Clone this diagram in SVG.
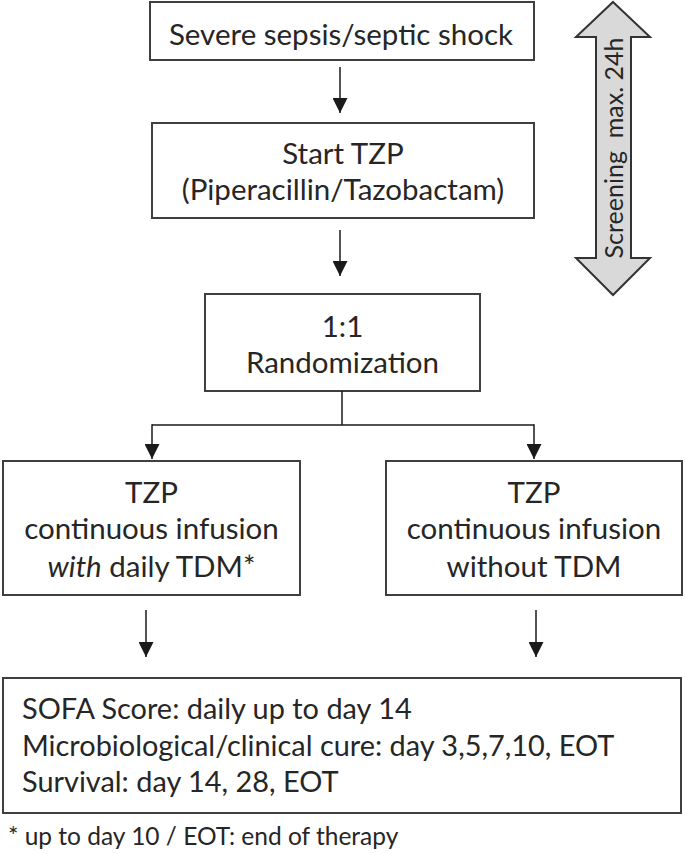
<svg xmlns="http://www.w3.org/2000/svg" width="685" height="854" viewBox="0 0 685 854">
<style>
.box{fill:#fff;stroke:#3f3f3f;stroke-width:2}
.t{font-family:Lato,"Liberation Sans",sans-serif;font-size:29.5px;fill:#262626}
.s{font-size:28.9px}
.c{text-anchor:middle}
.ln{stroke:#1a1a1a;stroke-width:1.5;fill:none}
</style>
<defs>
<marker id="ah" markerUnits="userSpaceOnUse" markerWidth="15" markerHeight="15" refX="15" refY="7.5" orient="auto">
<path d="M0,0 L15,7.5 L0,15 z" fill="#1a1a1a"/>
</marker>
</defs>
<rect width="685" height="854" fill="#fff"/>
<g id="screening">
<polygon points="613,2 650,37 631,37 631,258 650,258 613,295 576,258 596,258 596,37 576,37" fill="#d9d9d9" stroke="#333" stroke-width="2" stroke-linejoin="miter"/>
<text class="t c" style="font-size:25px" xml:space="preserve" transform="translate(623,148) rotate(-90)">Screening  max. 24h</text>
</g>
<g id="n1">
<rect class="box" x="150" y="2" width="384" height="58"/>
<text class="t c" x="341" y="45">Severe sepsis/septic shock</text>
</g>
<g id="n2">
<rect class="box" x="152" y="123" width="382" height="95"/>
<text class="t c" x="343" y="164">Start TZP</text>
<text class="t c" x="343" y="200">(Piperacillin/Tazobactam)</text>
</g>
<g id="n3">
<rect class="box" x="205" y="294" width="275" height="97"/>
<text class="t c" x="342.5" y="337">1:1</text>
<text class="t c" x="342.5" y="373">Randomization</text>
</g>
<g id="n4">
<rect class="box" x="3" y="461" width="297" height="134"/>
<text class="t c" x="151.5" y="503">TZP</text>
<text class="t c" x="151.5" y="539">continuous infusion</text>
<text class="t c" x="151.5" y="577"><tspan font-style="italic">with</tspan> daily TDM*</text>
</g>
<g id="n5">
<rect class="box" x="386" y="461" width="296" height="134"/>
<text class="t c" x="534" y="503">TZP</text>
<text class="t c" x="534" y="539">continuous infusion</text>
<text class="t c" x="534" y="577">without TDM</text>
</g>
<g id="n6">
<rect class="box" x="3" y="678" width="678" height="135"/>
<text class="t s" x="22" y="719">SOFA Score: daily up to day 14</text>
<text class="t s" x="22" y="756">Microbiological/clinical cure: day 3,5,7,10, EOT</text>
<text class="t s" x="22" y="792">Survival: day 14, 28, EOT</text>
</g>
<g id="footnote">
<text class="t" style="font-size:24.5px" x="8" y="845">* up to day 10 / EOT: end of therapy</text>
</g>
<g id="connectors">
<line class="ln" x1="340" y1="67" x2="340" y2="113" marker-end="url(#ah)"/>
<line class="ln" x1="340" y1="230" x2="340" y2="276" marker-end="url(#ah)"/>
<polyline class="ln" points="342,391 342,425"/>
<polyline class="ln" points="152,425 534,425"/>
<line class="ln" x1="152" y1="424.25" x2="152" y2="459" marker-end="url(#ah)"/>
<line class="ln" x1="534" y1="424.25" x2="534" y2="459" marker-end="url(#ah)"/>
<line class="ln" x1="146" y1="610" x2="146" y2="657" marker-end="url(#ah)"/>
<line class="ln" x1="536" y1="610" x2="536" y2="657" marker-end="url(#ah)"/>
</g>
</svg>
